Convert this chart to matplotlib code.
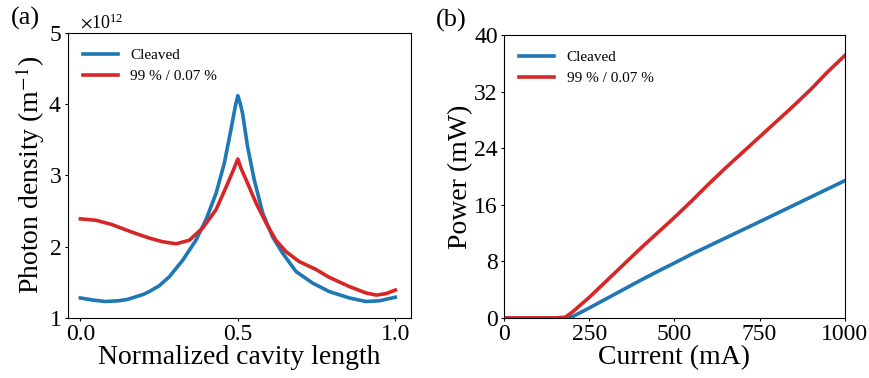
import matplotlib
matplotlib.use("Agg")
import matplotlib.pyplot as plt
from matplotlib.ticker import ScalarFormatter
import numpy as np

plt.rcParams['font.family'] = ['Liberation Serif', 'DejaVu Serif']
plt.rcParams['mathtext.fontset'] = 'stix'

# Panel (a): photon density along the cavity (units of 1e12 m^-1)
pos_cleaved = [0.0, 0.04, 0.08, 0.12, 0.15, 0.2, 0.219, 0.25, 0.283, 0.325, 0.367, 0.399, 0.431,
               0.457, 0.478, 0.492, 0.5, 0.507, 0.515, 0.531, 0.552, 0.579, 0.61, 0.642, 0.685,
               0.737, 0.79, 0.854, 0.907, 0.95, 1.0]
dens_cleaved = [1.28, 1.25, 1.23, 1.24, 1.26, 1.33, 1.37, 1.45, 1.58, 1.81, 2.09, 2.38, 2.75,
                3.17, 3.64, 3.97, 4.12, 4.02, 3.87, 3.40, 2.94, 2.47, 2.14, 1.91, 1.65,
                1.49, 1.37, 1.28, 1.23, 1.24, 1.29]
pos_mirror = [0.0, 0.05, 0.10, 0.166, 0.219, 0.26, 0.304, 0.346, 0.388, 0.431, 0.468, 0.49, 0.5,
              0.51, 0.526, 0.558, 0.59, 0.621, 0.653, 0.695, 0.748, 0.79, 0.854, 0.907, 0.94, 0.97, 1.0]
dens_mirror = [2.39, 2.37, 2.31, 2.20, 2.12, 2.07, 2.04, 2.09, 2.26, 2.52, 2.89, 3.12, 3.23,
               3.10, 2.94, 2.61, 2.33, 2.09, 1.93, 1.79, 1.68, 1.57, 1.44, 1.35, 1.32, 1.34, 1.39]

# Panel (b): L-I curves
current = [0, 50, 100, 150, 180, 200, 250, 300, 350, 400, 450, 500, 550, 600, 650, 700, 750, 800, 850, 900, 950, 1000]
power_cleaved = [0, 0, 0, 0, 0, 0.15, 1.4, 2.7, 4.0, 5.3, 6.55, 7.76, 9.0, 10.15, 11.3, 12.45, 13.6, 14.76, 15.92, 17.08, 18.24, 19.4]
power_mirror = [0, 0, 0, 0, 0.1, 0.8, 2.9, 5.2, 7.5, 9.8, 12.0, 14.2, 16.5, 18.9, 21.2, 23.4, 25.6, 27.8, 30.0, 32.3, 34.8, 37.1]

labels = ['Cleaved', '99 % / 0.07 %']
blue = '#1f77b4'
red = '#d62728'

fig = plt.figure(figsize=(8.69, 3.78), dpi=100)
ax1 = fig.add_axes([0.078, 0.159, 0.395, 0.754])
ax2 = fig.add_axes([0.580, 0.159, 0.392, 0.748])

scale = 1e12
ax1.plot(pos_cleaved, np.array(dens_cleaved) * scale, color=blue, lw=2.6, label=labels[0])
ax1.plot(pos_mirror, np.array(dens_mirror) * scale, color=red, lw=2.6, label=labels[1])
ax1.set_xlim(-0.04, 1.05)
ax1.set_ylim(1e12, 5e12)
ax1.set_xticks([0.0, 0.5, 1.0])
ax1.set_yticks([1e12, 2e12, 3e12, 4e12, 5e12])
fmt = ScalarFormatter(useMathText=True)
fmt.set_powerlimits((0, 0))
ax1.yaxis.set_major_formatter(fmt)
ax1.yaxis.get_offset_text().set_fontsize(13)
ax1.yaxis.get_offset_text().set_x(0.035)
ax1.set_xlabel('Normalized cavity length', fontsize=20, labelpad=0)
ax1.set_ylabel('Photon density (m$^{-1}$)', fontsize=20, labelpad=1)
ax1.legend(loc='upper left', frameon=False, fontsize=11, handlelength=2.3, borderaxespad=0.6)
ax1.text(-0.165, 1.01, '(a)', transform=ax1.transAxes, fontsize=19, ha='left', va='bottom')

ax2.plot(current, power_cleaved, color=blue, lw=2.6, label=labels[0])
ax2.plot(current, power_mirror, color=red, lw=2.6, label=labels[1])
ax2.set_xlim(0, 1000)
ax2.set_ylim(0, 40)
ax2.set_xticks([0, 250, 500, 750, 1000])
ax2.set_yticks([0, 8, 16, 24, 32, 40])
ax2.set_xlabel('Current (mA)', fontsize=20, labelpad=0)
ax2.set_ylabel('Power (mW)', fontsize=20, labelpad=1)
ax2.legend(loc='upper left', frameon=False, fontsize=11, handlelength=2.3, borderaxespad=0.6)
ax2.text(-0.2, 1.01, '(b)', transform=ax2.transAxes, fontsize=19, ha='left', va='bottom')

for ax in (ax1, ax2):
    ax.tick_params(length=2.5, width=0.8, labelsize=17, pad=2)
    for s in ax.spines.values():
        s.set_linewidth(0.8)

fig.savefig('out.png', dpi=100)
